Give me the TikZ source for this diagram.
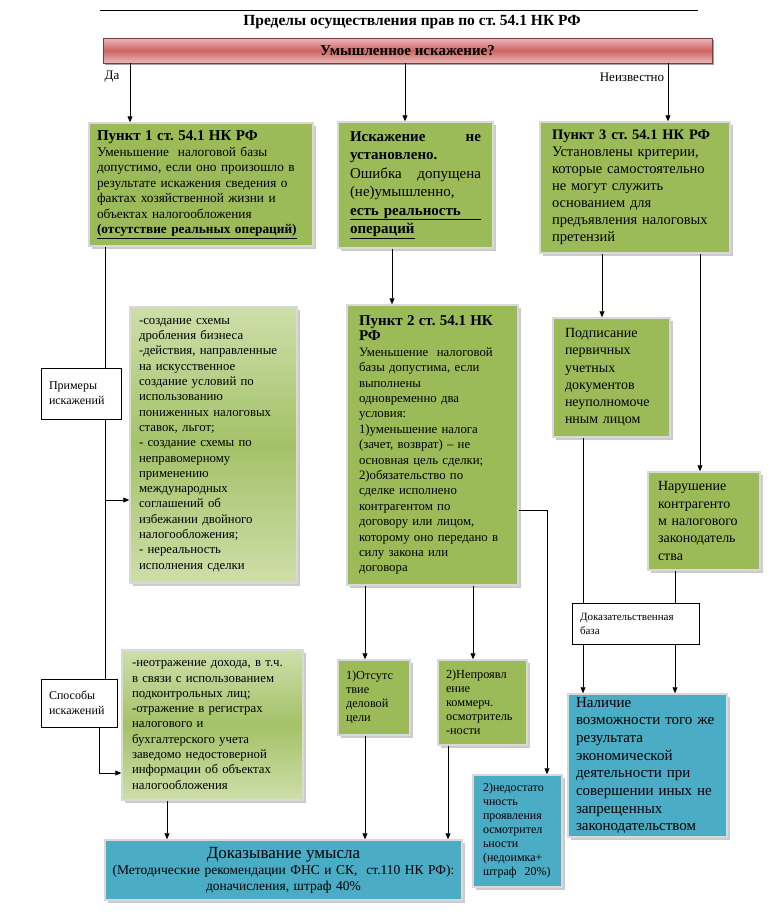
\documentclass[tikz,border=0pt]{standalone}
\usepackage{fontspec}
\setmainfont{Liberation Serif}
\usetikzlibrary{shadows,arrows.meta}
\frenchspacing
\definecolor{boxgreen}{RGB}{155,187,89}
\definecolor{lightg}{RGB}{206,222,170}
\definecolor{midg}{RGB}{163,194,104}
\definecolor{boxblue}{RGB}{75,172,198}
\definecolor{barred}{RGB}{205,100,98}
\definecolor{barpink}{RGB}{234,186,186}
\tikzset{
  gbox/.style={draw=white!85!black, line width=1.5pt, fill=boxgreen, align=left,
    inner xsep=8pt, inner ysep=2pt,
    drop shadow={shadow xshift=2.5pt, shadow yshift=-2.5pt, fill=black!45, opacity=.45}},
  lgbox/.style={gbox, top color=lightg, bottom color=lightg, middle color=midg},
  bbox/.style={gbox, fill=boxblue},
  tagbox/.style={draw, line width=.6pt, fill=white, align=left, inner xsep=8pt,
    font=\fontsize{12}{15}\selectfont},
  redbar/.style={draw=barred!60!black, line width=.5pt, top color=barpink,
    bottom color=barpink, middle color=barred,
    drop shadow={shadow xshift=2pt, shadow yshift=-2pt, fill=black!60, opacity=.6}},
}
\begin{document}
\begin{tikzpicture}[x=1pt, y=-1pt, >={Triangle[length=6pt,width=5pt]}, line width=.7pt]
\useasboundingbox (0,0) rectangle (771,919);
% column and row helpers
\coordinate (cDa) at (130,0);
\coordinate (cMid) at (405,0);
\coordinate (cNe) at (668,0);
\coordinate (cL) at (105,0);
\coordinate (cL2) at (99,0);
\coordinate (cS) at (167,0);
\coordinate (cM) at (392,0);
\coordinate (cA) at (365,0);
\coordinate (cB) at (473,0);
\coordinate (cB2) at (448,0);
\coordinate (cR) at (547,0);
\coordinate (cP) at (602,0);
\coordinate (cN) at (700,0);
\coordinate (cD1) at (583,0);
\coordinate (cD2) at (675,0);
\coordinate (rEx) at (0,500);
\coordinate (rSp) at (0,773);
\coordinate (rP2) at (0,510);

\draw (100,10) -- (698,10);
\node[font=\bfseries\fontsize{15.5}{18}\selectfont] (title) at (412,22) {Пределы осуществления прав по ст. 54.1 НК РФ};
\node[redbar, minimum width=609pt, minimum height=25pt, font=\bfseries\fontsize{15}{18}\selectfont] (bar) at (407.5,50.5) {Умышленное искажение?};
\node[font=\fontsize{13}{15}\selectfont] (da) at (112,77) {Да};
\node[font=\fontsize{13}{15}\selectfont] (ne) at (632,77) {Неизвестно};

% top row
\node[gbox, text width=208pt, minimum height=123pt, font=\fontsize{13.3}{15.5}\selectfont] (p1) at (201,184.5)
  {{\bfseries\fontsize{15}{16}\selectfont Пункт 1 ст. 54.1 НК РФ}\\
   Уменьшение\ \ налоговой базы\\
   допустимо, если оно произошло в\\
   результате искажения сведения о\\
   фактах хозяйственной жизни и\\
   объектах налогообложения\\
   \underline{\textbf{(отсутствие реальных операций)}}};
\node[gbox, inner xsep=12pt, text width=131pt, minimum height=126pt, font=\fontsize{15}{18.5}\selectfont] (m) at (415.5,185)
  {\textbf{Искажение \hfill не}\\
   \textbf{установлено.}\\
   Ошибка \hfill допущена\\
   (не)умышленно,\\
   \underline{\makebox[\linewidth][s]{\textbf{есть реальность}}}\\
   \underline{\textbf{операций}}};
\node[gbox, inner xsep=12pt, text width=166pt, minimum height=131pt, font=\fontsize{14.5}{17}\selectfont] (p3) at (635,187.5)
  {\textbf{Пункт 3 ст. 54.1 НК РФ}\\
   Установлены критерии,\\
   которые самостоятельно\\
   не могут служить\\
   основанием для\\
   предъявления налоговых\\
   претензий};

% left column
\node[lgbox, inner xsep=9pt, text width=149pt, minimum height=276pt, font=\fontsize{12.8}{15.3}\selectfont] (ex) at (213.5,445)
  {-создание схемы\\
   дробления бизнеса\\
   -действия, направленные\\
   на искусственное\\
   создание условий по\\
   использованию\\
   пониженных налоговых\\
   ставок, льгот;\\
   - создание схемы по\\
   неправомерному\\
   применению\\
   международных\\
   соглашений об\\
   избежании двойного\\
   налогообложения;\\
   - нереальность\\
   исполнения сделки};
\node[lgbox, inner xsep=10pt, text width=161pt, minimum height=150pt, font=\fontsize{12.8}{15.3}\selectfont] (s) at (212.5,725)
  {-неотражение дохода, в т.ч.\\
   в связи с использованием\\
   подконтрольных лиц;\\
   -отражение в регистрах\\
   налогового и\\
   бухгалтерского учета\\
   заведомо недостоверной\\
   информации об объектах\\
   налогообложения};
\node[tagbox, text width=64pt, minimum height=51pt] (prim) at (81,393.5) {Примеры\\искажений};
\node[tagbox, text width=60pt, minimum height=48pt] (spos) at (79,703) {Способы\\искажений};

% middle column
\node[gbox, inner xsep=12pt, text width=147pt, minimum height=280pt, font=\fontsize{12.8}{15.4}\selectfont] (p2) at (432.5,445)
  {{\bfseries\fontsize{15}{17}\selectfont Пункт 2 ст. 54.1 НК\\РФ}\\
   Уменьшение\ \ налоговой\\
   базы допустима, если\\
   выполнены\\
   одновременно два\\
   условия:\\
   1)уменьшение налога\\
   (зачет, возврат) -- не\\
   основная цель сделки;\\
   2)обязательство по\\
   сделке исполнено\\
   контрагентом по\\
   договору или лицом,\\
   которому оно передано в\\
   силу закона или\\
   договора};
\node[gbox, text width=56pt, minimum height=75pt, font=\fontsize{12.3}{14}\selectfont] (sm1) at (374,697.5)
  {1)Отсутс\\твие\\деловой\\цели};
\node[gbox, text width=73pt, minimum height=85pt, font=\fontsize{12.3}{14}\selectfont] (sm2) at (482.5,702.5)
  {2)Непроявл\\ение\\коммерч.\\осмотритель\\-ности};
\node[bbox, inner xsep=10pt, text width=69pt, minimum height=112pt, font=\fontsize{12}{14}\selectfont] (sm3) at (517.5,831)
  {2)недостато\\чность\\проявления\\осмотрител\\ьности\\(недоимка+\\штраф\ \ 20\%)};
\node[bbox, align=center, inner xsep=3pt, text width=351pt, minimum height=60pt, font=\fontsize{13.5}{16}\selectfont] (dok) at (283.5,870)
  {{\fontsize{17}{19}\selectfont Доказывание умысла}\\
   (Методические рекомендации ФНС и СК,\ \ ст.110 НК РФ):\\
   доначисления, штраф 40\%};

% right column
\node[gbox, inner xsep=12pt, text width=93pt, minimum height=119pt, font=\fontsize{14}{17.3}\selectfont] (podp) at (611.5,377.5)
  {Подписание\\первичных\\учетных\\документов\\неуполномоче\\нным лицом};
\node[gbox, inner xsep=10pt, text width=92pt, minimum height=98pt, font=\fontsize{14}{17.3}\selectfont] (nar) at (704,521)
  {Нарушение\\контрагенто\\м налогового\\законодатель\\ства};
\node[tagbox, text width=111pt, minimum height=41pt, font=\fontsize{11}{14}\selectfont] (db) at (635.5,623.5)
  {Доказательственная\\база};
\node[bbox, inner xsep=8pt, text width=143pt, minimum height=143pt, font=\fontsize{15}{17.7}\selectfont] (nal) at (647.5,765.5)
  {Наличие\\возможности того же\\результата\\экономической\\деятельности при\\совершении иных не\\запрещенных\\законодательством};

% connectors
\draw[->] (bar.south -| cDa) -- (p1.north -| cDa);
\draw[->] (bar.south -| cMid) -- (m.north -| cMid);
\draw[->] (bar.south -| cNe) -- (p3.north -| cNe);
\draw (p1.south -| cL) -- (prim.north -| cL);
\draw (prim.south -| cL) -- (spos.north -| cL);
\draw[->] (rEx -| cL) -- (rEx -| ex.west);
\draw[->] (spos.south -| cL2) |- (rSp -| s.west);
\draw[->] (s.south -| cS) -- (dok.north -| cS);
\draw[->] (m.south -| cM) -- (p2.north -| cM);
\draw[->] (p2.south -| cA) -- (sm1.north -| cA);
\draw[->] (p2.south -| cB) -- (sm2.north -| cB);
\draw[->] (rP2 -| p2.east) -| (sm3.north -| cR);
\draw[->] (sm1.south -| cA) -- (dok.north -| cA);
\draw[->] (sm2.south -| cB2) -- (dok.north -| cB2);
\draw[->] (p3.south -| cP) -- (podp.north -| cP);
\draw[->] (p3.south -| cN) -- (nar.north -| cN);
\draw (podp.south -| cD1) -- (db.north -| cD1);
\draw (nar.south -| cD2) -- (db.north -| cD2);
\draw[->] (db.south -| cD1) -- (nal.north -| cD1);
\draw[->] (db.south -| cD2) -- (nal.north -| cD2);
\end{tikzpicture}
\end{document}
